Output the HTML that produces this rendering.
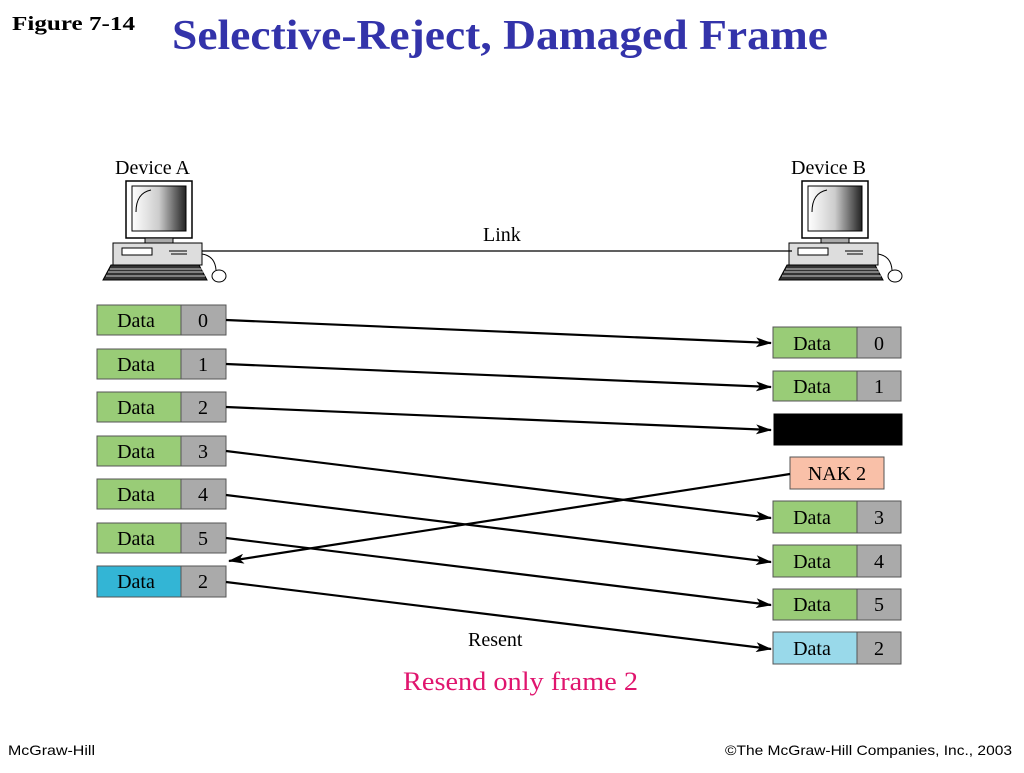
<!DOCTYPE html>
<html><head><meta charset="utf-8"><style>
body{margin:0;background:#fff;width:1024px;height:768px;overflow:hidden}
</style></head><body>
<svg width="1024" height="768" viewBox="0 0 1024 768" xmlns="http://www.w3.org/2000/svg" font-family="Liberation Serif, serif">
<defs>
<marker id="ah" markerWidth="16" markerHeight="10" refX="15" refY="5" orient="auto" markerUnits="userSpaceOnUse">
<path d="M0,0 L16,5 L0,10 L4,5 z" fill="#000"/></marker>
<linearGradient id="scr" x1="0" x2="1"><stop offset="0" stop-color="#fff"/><stop offset="0.5" stop-color="#ccc"/><stop offset="1" stop-color="#222"/></linearGradient>
<g id="pc">
<rect x="37" y="33" width="66" height="57" fill="#fff" stroke="#000" stroke-width="1.5"/>
<rect x="43" y="38" width="54" height="45" fill="url(#scr)" stroke="#000"/>
<path d="M47,64 Q47,45 62,42" stroke="#000" fill="none"/>
<rect x="56" y="90" width="28" height="5" fill="#aaa" stroke="#000"/>
<rect x="24" y="95" width="89" height="22" fill="#ddd" stroke="#000"/>
<rect x="33" y="100" width="30" height="7" fill="#fff" stroke="#000"/>
<path d="M80,103 h18 M82,106 h16" stroke="#000"/>
<path d="M14,132 L22,117 L110,117 L118,132 z" fill="#333" stroke="#000"/>
<path d="M21,121 h92 M19,124 h96 M17,128 h99" stroke="#ccc" stroke-width="1"/>
<ellipse cx="130" cy="128" rx="7" ry="6" fill="#fff" stroke="#000"/>
<path d="M113,106 Q126,108 127,122" stroke="#000" fill="none"/>
</g>
</defs>
<text x="12" y="30" font-size="20" font-weight="bold" textLength="123" lengthAdjust="spacingAndGlyphs">Figure 7-14</text>
<text x="172" y="49" font-size="42" font-weight="bold" fill="#3333aa" textLength="656" lengthAdjust="spacingAndGlyphs">Selective-Reject, Damaged Frame</text>
<text x="115" y="174" font-size="20">Device A</text>
<text x="791" y="174" font-size="20">Device B</text>
<text x="483" y="241" font-size="20">Link</text>
<use href="#pc" x="89" y="148"/>
<use href="#pc" x="765" y="148"/>
<line x1="202" y1="251" x2="792" y2="251" stroke="#000" stroke-width="1.2"/>
<g font-size="20" text-anchor="middle" stroke-width="1">
<g stroke="#555">
<rect x="97" y="305" width="84" height="30" fill="#99cc77"/><rect x="181" y="305" width="45" height="30" fill="#aaa"/>
<rect x="97" y="349" width="84" height="30" fill="#99cc77"/><rect x="181" y="349" width="45" height="30" fill="#aaa"/>
<rect x="97" y="392" width="84" height="30" fill="#99cc77"/><rect x="181" y="392" width="45" height="30" fill="#aaa"/>
<rect x="97" y="436" width="84" height="30" fill="#99cc77"/><rect x="181" y="436" width="45" height="30" fill="#aaa"/>
<rect x="97" y="479" width="84" height="30" fill="#99cc77"/><rect x="181" y="479" width="45" height="30" fill="#aaa"/>
<rect x="97" y="523" width="84" height="30" fill="#99cc77"/><rect x="181" y="523" width="45" height="30" fill="#aaa"/>
<rect x="97" y="566" width="84" height="31" fill="#33b5d5"/><rect x="181" y="566" width="45" height="31" fill="#aaa"/>
</g>
<text x="136" y="327">Data</text><text x="203" y="327">0</text>
<text x="136" y="371">Data</text><text x="203" y="371">1</text>
<text x="136" y="414">Data</text><text x="203" y="414">2</text>
<text x="136" y="458">Data</text><text x="203" y="458">3</text>
<text x="136" y="501">Data</text><text x="203" y="501">4</text>
<text x="136" y="545">Data</text><text x="203" y="545">5</text>
<text x="136" y="588">Data</text><text x="203" y="588">2</text>
<g stroke="#555">
<rect x="773" y="327" width="84" height="31" fill="#99cc77"/><rect x="857" y="327" width="44" height="31" fill="#aaa"/>
<rect x="773" y="371" width="84" height="30" fill="#99cc77"/><rect x="857" y="371" width="44" height="30" fill="#aaa"/>
<rect x="774" y="414" width="128" height="31" fill="#000" stroke="#000"/>
<rect x="790" y="457" width="94" height="32" fill="#f9c0a8"/>
<rect x="773" y="501" width="84" height="32" fill="#99cc77"/><rect x="857" y="501" width="44" height="32" fill="#aaa"/>
<rect x="773" y="545" width="84" height="32" fill="#99cc77"/><rect x="857" y="545" width="44" height="32" fill="#aaa"/>
<rect x="773" y="589" width="84" height="31" fill="#99cc77"/><rect x="857" y="589" width="44" height="31" fill="#aaa"/>
<rect x="773" y="632" width="84" height="32" fill="#99d9ea"/><rect x="857" y="632" width="44" height="32" fill="#aaa"/>
</g>
<text x="812" y="350">Data</text><text x="879" y="350">0</text>
<text x="812" y="393">Data</text><text x="879" y="393">1</text>
<text x="837" y="480">NAK 2</text>
<text x="812" y="524">Data</text><text x="879" y="524">3</text>
<text x="812" y="568">Data</text><text x="879" y="568">4</text>
<text x="812" y="611">Data</text><text x="879" y="611">5</text>
<text x="812" y="655">Data</text><text x="879" y="655">2</text>
</g>
<g stroke="#000" stroke-width="2.2" marker-end="url(#ah)">
<line x1="226" y1="320" x2="771" y2="343"/>
<line x1="226" y1="364" x2="771" y2="387"/>
<line x1="226" y1="407" x2="771" y2="430"/>
<line x1="226" y1="451" x2="771" y2="518"/>
<line x1="226" y1="495" x2="771" y2="562"/>
<line x1="226" y1="538" x2="771" y2="605"/>
<line x1="226" y1="582" x2="771" y2="649"/>
<line x1="790" y1="474" x2="229" y2="561"/>
</g>
<text x="468" y="646" font-size="20">Resent</text>
<text x="403" y="690" font-size="26" fill="#e0156e" textLength="235" lengthAdjust="spacingAndGlyphs">Resend only frame 2</text>
<text x="8" y="755" font-size="14" font-family="Liberation Sans, sans-serif" textLength="87" lengthAdjust="spacingAndGlyphs">McGraw-Hill</text>
<text x="725" y="755" font-size="14" font-family="Liberation Sans, sans-serif" textLength="287" lengthAdjust="spacingAndGlyphs">©The McGraw-Hill Companies, Inc., 2003</text>
</svg>
</body></html>
